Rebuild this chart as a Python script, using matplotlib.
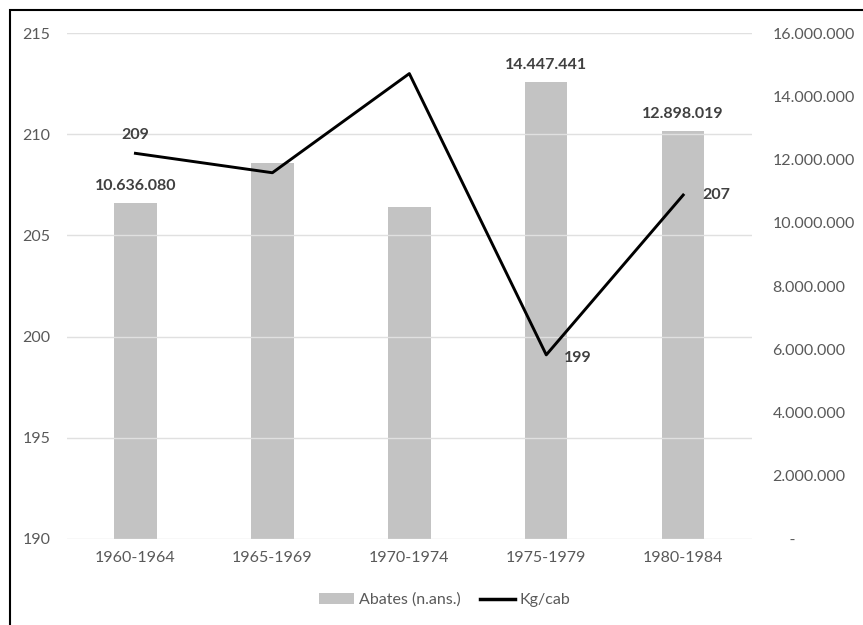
import matplotlib
matplotlib.use("Agg")
import matplotlib.pyplot as plt
from matplotlib.patches import Rectangle, Patch
from matplotlib.lines import Line2D
from matplotlib.ticker import FuncFormatter

plt.rcParams['font.family'] = ['Lato', 'DejaVu Sans']

# Quinquennial periods
periods = ["1960-1964", "1965-1969", "1970-1974", "1975-1979", "1980-1984"]
# Slaughtered animals (n.ans.), right axis
abates = [10636080, 11900000, 10490000, 14447441, 12898019]
# Kg per head, left axis
kg_cab = [209.06, 208.1, 213.0, 199.1, 207.0]

# which points carry a value label
abates_labelled = [True, False, False, True, True]
kg_labels = {0: "209", 3: "199", 4: "207"}

text_grey = "#595959"
label_grey = "#404040"
bar_grey = "#c3c3c3"
fs = 11.5


def thousands(v, pos=None):
    if v == 0:
        return "    -"
    return f"{int(v):,}".replace(",", ".")


fig = plt.figure(figsize=(8.63, 6.25), dpi=100)
ax = fig.add_axes([0.0776, 0.1376, 0.7934, 0.8094])
ax2 = ax.twinx()

x = list(range(len(periods)))

# bars on the secondary axis, line on the primary one
ax2.bar(x, abates, width=0.31, color=bar_grey, zorder=2)
ax2.set_ylim(0, 16000000)
ax2.set_yticks(range(0, 16000001, 2000000))
ax2.yaxis.set_major_formatter(FuncFormatter(thousands))

ax.set_ylim(190, 215)
ax.set_yticks(range(190, 216, 5))
ax.set_xlim(-0.5, len(periods) - 0.5)
ax.set_xticks(x)
ax.set_xticklabels(periods)
ax.grid(axis="y", color="#e0e0e0", linewidth=1.0, zorder=0)
ax.set_axisbelow(True)

ax.set_zorder(ax2.get_zorder() + 1)
ax.patch.set_visible(False)
ax.plot(x, kg_cab, color="black", linewidth=2.1, zorder=5)

for a in (ax, ax2):
    for s in a.spines.values():
        s.set_visible(False)
    a.tick_params(length=0, labelsize=fs, colors=text_grey)
ax.tick_params(axis="y", pad=12)
ax.tick_params(axis="x", pad=9)
ax2.tick_params(axis="y", pad=15)

# value labels on bars (drawn in primary-axis space so they sit over the line)
for i, v in enumerate(abates):
    if abates_labelled[i]:
        y = 190 + v / 16000000 * 25
        ax.annotate(thousands(v), (i, y), xytext=(0, 7), textcoords="offset points",
                    ha="center", va="bottom", fontsize=fs, fontweight="bold",
                    color=label_grey, zorder=6)

offsets = {0: (0, 8, "center", "bottom"), 3: (13, -2, "left", "center"),
           4: (14, 0, "left", "center")}
for i, lab in kg_labels.items():
    dx, dy, ha, va = offsets[i]
    ax.annotate(lab, (i, kg_cab[i]), xytext=(dx, dy), textcoords="offset points",
                ha=ha, va=va, fontsize=fs, fontweight="bold", color=label_grey, zorder=6)

handles = [Patch(facecolor=bar_grey, edgecolor="none"),
           Line2D([], [], color="black", linewidth=2.5)]
fig.legend(handles, ["Abates (n.ans.)", "Kg/cab"], loc="center",
           bbox_to_anchor=(0.515, 0.04), ncol=2, frameon=False, fontsize=fs,
           labelcolor=text_grey, handlelength=2.2, handletextpad=0.3, columnspacing=1.2)

# outer frame (only left and top edges fall inside the picture)
fig.patches.append(Rectangle((10 / 863, -0.1), 1.2, 1 - 10 / 625 + 0.1,
                             transform=fig.transFigure, fill=False,
                             edgecolor="black", linewidth=1.5))

fig.savefig("out.png", dpi=100)
